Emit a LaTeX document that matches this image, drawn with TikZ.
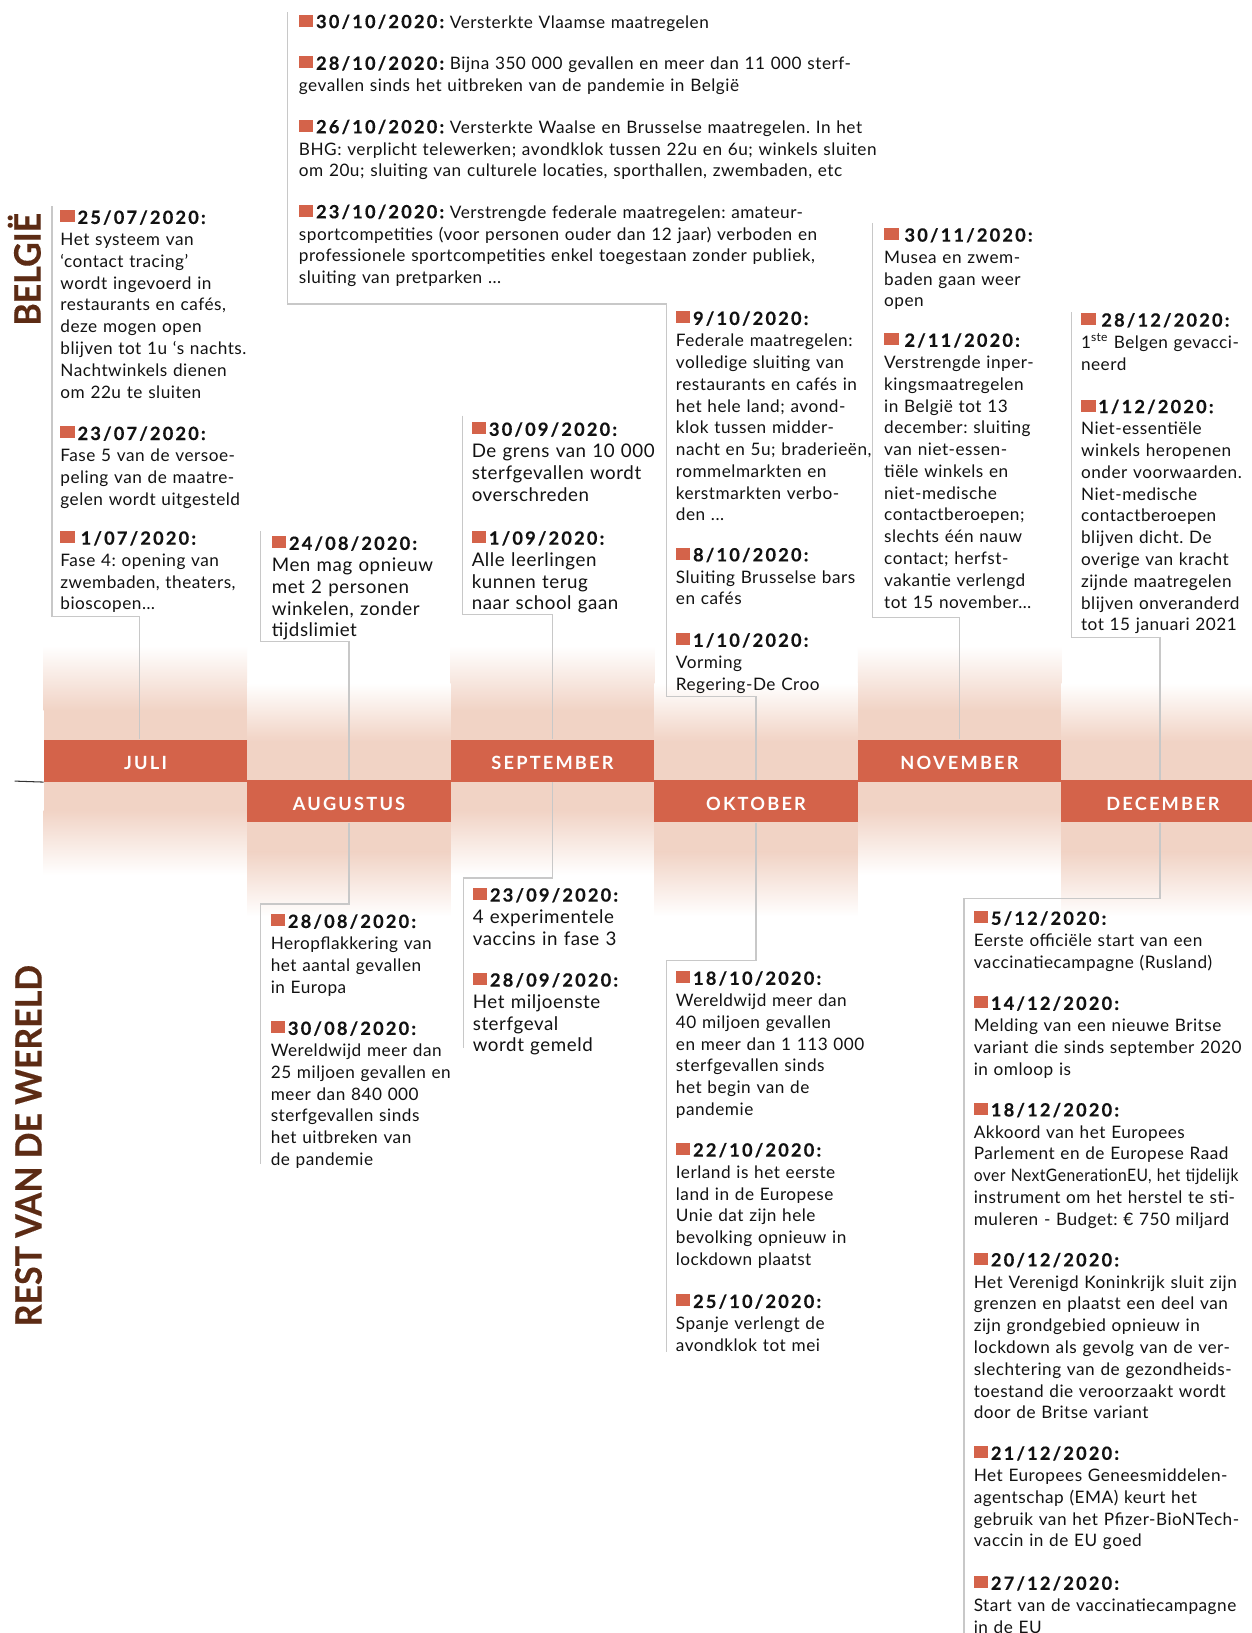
\documentclass[tikz,border=0pt]{standalone}
\usepackage{fontspec}
\usepackage{graphicx}
\setmainfont{Lato}
\usetikzlibrary{calc}
\definecolor{barc}{RGB}{212,99,74}
\definecolor{pinkc}{RGB}{241,211,197}
\definecolor{linec}{RGB}{200,200,200}
\definecolor{brownc}{RGB}{92,43,20}
\definecolor{txtc}{RGB}{18,18,18}
\frenchspacing
\newcommand{\bodyfont}{\fontsize{16.5}{20.9}\selectfont\addfontfeatures{LetterSpace=3}}
\newcommand{\bigbody}{\fontsize{18}{20.9}\selectfont\addfontfeatures{LetterSpace=3}}
\newcommand{\sqmark}{{\color{barc}\rule[1.5pt]{14pt}{11.5pt}}}
\newcommand{\hdtext}[1]{{\fontsize{17.5}{20.9}\selectfont\bfseries\addfontfeatures{LetterSpace=12,FakeBold=0.4}#1}}
\newcommand{\hd}[1]{\sqmark\kern2.5pt\hdtext{#1}}
\newcommand{\hds}[1]{\sqmark\kern5.5pt\hdtext{#1}}
\newcommand{\squeeze}[1]{\scalebox{0.91}[1]{#1}}
\begin{document}
\begin{tikzpicture}[x=1pt,y=-1pt,
  evt/.style={anchor=base west, inner sep=0pt, outer sep=0pt, align=left, text width=#1, font=\bodyfont, text=txtc},
  evt/.default=265pt,
  bevt/.style={anchor=base west, inner sep=0pt, outer sep=0pt, align=left, text width=#1, font=\bigbody, text=txtc},
  bevt/.default=265pt,
  mbar/.style={fill=barc, minimum width=195.4pt, minimum height=40.5pt, inner sep=0pt, text=white,
    text height=17.2pt, text depth=0pt,
    font=\fontsize{17.5}{20}\selectfont\bfseries\addfontfeatures{LetterSpace=12}},
  conn/.style={draw=linec, line width=1.3pt},
  side/.style={rotate=90, anchor=base, text=brownc, inner sep=0pt,
    font=\fontsize{35}{40}\selectfont\bfseries\addfontfeatures{FakeStretch=0.93,FakeBold=0.3}}
]
\useasboundingbox (0,0) rectangle (1202,1568);
\clip (0,0) rectangle (1202,1568);
\fill[white] (0,0) rectangle (1202,1568);

% column shadings
\foreach \xa in {42, 432.8, 823.6}{
  \shade[top color=white, bottom color=pinkc] (\xa,620) rectangle (\xa+195.4,682);
  \fill[pinkc] (\xa,681.5) rectangle (\xa+195.4,710.5);
  \fill[pinkc] (\xa,749.5) rectangle (\xa+195.4,778.5);
  \shade[top color=pinkc, bottom color=white] (\xa,778) rectangle (\xa+195.4,840);
}
\foreach \xa in {237.4, 628.2, 1019}{
  \shade[top color=white, bottom color=pinkc] (\xa,656) rectangle (\xa+195.4,712);
  \fill[pinkc] (\xa,711.5) rectangle (\xa+195.4,749.5);
  \fill[pinkc] (\xa,789.5) rectangle (\xa+195.4,818.5);
  \shade[top color=pinkc, bottom color=white] (\xa,818) rectangle (\xa+195.4,880);
}

% month bars
\node[mbar] (juli) at (139.7,730.5) {JULI};
\node[mbar] (aug) at (335.1,769.5) {AUGUSTUS};
\node[mbar] (sep) at (530.5,730.5) {SEPTEMBER};
\node[mbar] (okt) at (725.9,769.5) {OKTOBER};
\node[mbar] (nov) at (921.3,730.5) {NOVEMBER};
\node[mbar] (dec) at (1116.7,769.5) {DECEMBER};

\coordinate (ax) at (14,750);
\draw[line width=1pt, black!80] (ax) -- (juli.south west);

% side labels
\node[side] (belg) at (39,258.5) {BELGIË};
\node[side] (rest) at (40,1100) {REST VAN DE WERELD};

% connectors top
\coordinate (jT) at (50,198);   \coordinate (jC) at (50,592);
\draw[conn] (jT) -- (jC) -| ([xshift=-5.5pt]juli.north);
\coordinate (aT) at (250,510);  \coordinate (aC) at (250,616);
\draw[conn] (aT) -- (aC) -| (aug.north);
\coordinate (sT) at (444,399);  \coordinate (sC) at (444,590);
\draw[conn] (sT) -- (sC) -| (sep.north);
\coordinate (bT) at (276,12);   \coordinate (bC) at (276,292);
\coordinate (oT) at (640,292);  \coordinate (oC) at (640,669);
\draw[conn] (bT) -- (bC) -- (oT) -- (oC) -| (okt.north);
\coordinate (nT) at (838,214);  \coordinate (nC) at (838,593);
\draw[conn] (nT) -- (nC) -| (nov.north);
\coordinate (dT) at (1029,300); \coordinate (dC) at (1029,612);
\draw[conn] (dT) -- (dC) -| ([xshift=-3pt]dec.north);
% connectors bottom
\coordinate (aBC) at (250,868);  \coordinate (aBB) at (250,1118);
\draw[conn] (aug.south) |- (aBC) -- (aBB);
\coordinate (sBC) at (445,843);  \coordinate (sBB) at (445,1006);
\draw[conn] (sep.south) |- (sBC) -- (sBB);
\coordinate (oBC) at (640,922);  \coordinate (oBB) at (640,1298);
\draw[conn] (okt.south) |- (oBC) -- (oBB);
\coordinate (dBC) at (925.5,863); \coordinate (dBB) at (925.5,1575);
\draw[conn] ([xshift=-3pt]dec.south) |- (dBC) -- (dBB);

% ---- BELGIE entries
\node[evt] (j1) at (58,215) {\hd{25/07/2020:}\\Het systeem van\\‘contact tracing’\\wordt ingevoerd in\\restaurants en cafés,\\deze mogen open\\blijven tot 1u ‘s nachts.\\Nachtwinkels dienen\\om 22u te sluiten};
\node[evt] (j2) at (58,422.5) {\hd{23/07/2020:}\\Fase 5 van de versoe-\\peling van de maatre-\\gelen wordt uitgesteld};
\node[evt] (j3) at (58,523) {\hds{1/07/2020:}\\Fase 4: opening van\\zwembaden, theaters,\\bioscopen…};

\node[bevt] (a1) at (261,528) {\hd{24/08/2020:}\\Men mag opnieuw\\met 2 personen\\winkelen, zonder\\tijdslimiet};

\node[bevt] (s1) at (453,418.5) {\hd{30/09/2020:}\\De grens van 10 000\\sterfgevallen wordt\\overschreden};
\node[bevt] (s2) at (453,523) {\hd{1/09/2020:}\\Alle leerlingen\\kunnen terug\\naar school gaan};

\node[evt=600pt] (b1) at (287,27) {\hd{30/10/2020:} Versterkte Vlaamse maatregelen};
\node[evt=600pt] (b2) at (287,67) {\hd{28/10/2020:} Bijna 350 000 gevallen en meer dan 11 000 sterf-\\gevallen sinds het uitbreken van de pandemie in België};
\node[evt=600pt] (b3) at (287,128) {\hd{26/10/2020:} Versterkte Waalse en Brusselse maatregelen. In het\\BHG: verplicht telewerken; avondklok tussen 22u en 6u; winkels sluiten\\om 20u; sluiting van culturele locaties, sporthallen, zwembaden, etc};
\node[evt=600pt] (b4) at (287,209.6) {\hd{23/10/2020:} Verstrengde federale maatregelen: amateur-\\sportcompetities (voor personen ouder dan 12 jaar) verboden en\\professionele sportcompetities enkel toegestaan zonder publiek,\\sluiting van pretparken ...};

\node[evt] (o1) at (649,312) {\hd{9/10/2020:}\\Federale maatregelen:\\volledige sluiting van\\restaurants en cafés in\\het hele land; avond-\\klok tussen midder-\\nacht en 5u; braderieën,\\rommelmarkten en\\kerstmarkten verbo-\\den ...};
\node[evt] (o2) at (649,539) {\hd{8/10/2020:}\\Sluiting Brusselse bars\\en cafés};
\node[evt] (o3) at (649,621) {\hd{1/10/2020:}\\Vorming\\Regering-De Croo};

\node[evt] (n1) at (849,232) {\hds{30/11/2020:}\\Musea en zwem-\\baden gaan weer\\open};
\node[evt] (n2) at (849,333) {\hds{2/11/2020:}\\Verstrengde inper-\\kingsmaatregelen\\in België tot 13\\december: sluiting\\van niet-essen-\\tiële winkels en\\niet-medische\\contactberoepen;\\slechts één nauw\\contact; herfst-\\vakantie verlengd\\tot 15 november…};

\node[evt] (d1) at (1038,313.6) {\hds{28/12/2020:}\\1\textsuperscript{ste} Belgen gevacci-\\neerd};
\node[evt] (d2) at (1038,396.7) {\hd{1/12/2020:}\\Niet-essentiële\\winkels heropenen\\onder voorwaarden.\\Niet-medische\\contactberoepen\\blijven dicht. De\\overige van kracht\\zijnde maatregelen\\blijven onveranderd\\tot 15 januari 2021};

% ---- REST VAN DE WERELD entries
\node[evt] (ab1) at (260,891) {\hd{28/08/2020:}\\Heropflakkering van\\het aantal gevallen\\in Europa};
\node[evt] (ab2) at (260,993.7) {\hd{30/08/2020:}\\Wereldwijd meer dan\\25 miljoen gevallen en\\meer dan 840 000\\sterfgevallen sinds\\het uitbreken van\\de pandemie};

\node[bevt] (sb1) at (454,865.7) {\hd{23/09/2020:}\\4 experimentele\\vaccins in fase 3};
\node[bevt] (sb2) at (454,947.3) {\hd{28/09/2020:}\\Het miljoenste\\sterfgeval\\wordt gemeld};

\node[evt] (ob1) at (649,945.6) {\hd{18/10/2020:}\\Wereldwijd meer dan\\40 miljoen gevallen\\en meer dan 1 113 000\\sterfgevallen sinds\\het begin van de\\pandemie};
\node[evt] (ob2) at (649,1110.5) {\hd{22/10/2020:}\\Ierland is het eerste\\land in de Europese\\Unie dat zijn hele\\bevolking opnieuw in\\lockdown plaatst};
\node[evt] (ob3) at (649,1255.9) {\hd{25/10/2020:}\\Spanje verlengt de\\avondklok tot mei};

\node[evt] (db1) at (935,888) {\hd{5/12/2020:}\\Eerste officiële start van een\\vaccinatiecampagne (Rusland)};
\node[evt] (db2) at (935,969.7) {\hd{14/12/2020:}\\Melding van een nieuwe Britse\\variant die sinds september 2020\\in omloop is};
\node[evt] (db3) at (935,1072) {\hd{18/12/2020:}\\Akkoord van het Europees\\Parlement en de Europese Raad\\\squeeze{over NextGenerationEU, het tijdelijk}\\instrument om het herstel te sti-\\muleren - Budget: € 750 miljard};
\node[evt] (db4) at (935,1216) {\hd{20/12/2020:}\\Het Verenigd Koninkrijk sluit zijn\\grenzen en plaatst een deel van\\zijn grondgebied opnieuw in\\lockdown als gevolg van de ver-\\slechtering van de gezondheids-\\toestand die veroorzaakt wordt\\door de Britse variant};
\node[evt] (db5) at (935,1401.7) {\hd{21/12/2020:}\\Het Europees Geneesmiddelen-\\agentschap (EMA) keurt het\\gebruik van het Pfizer-BioNTech-\\vaccin in de EU goed};
\node[evt] (db6) at (935,1526.5) {\hd{27/12/2020:}\\Start van de vaccinatiecampagne\\in de EU};
\end{tikzpicture}
\end{document}
